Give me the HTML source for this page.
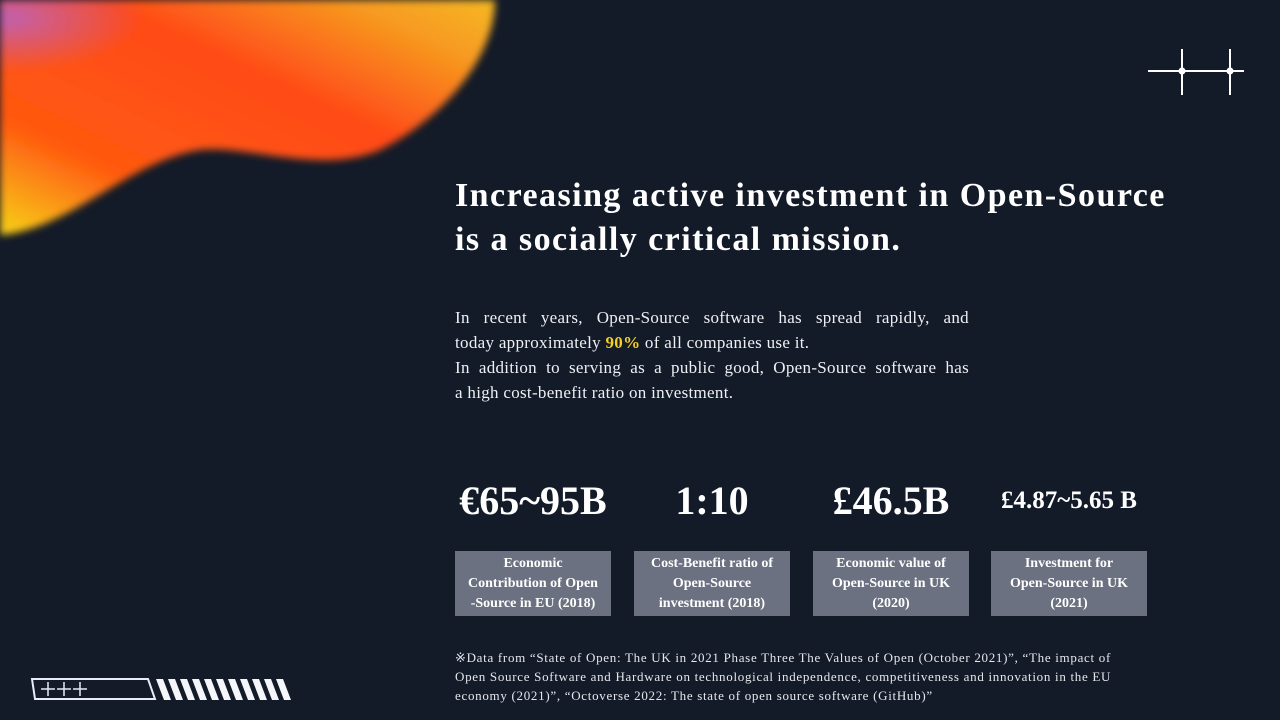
<!DOCTYPE html>
<html><head><meta charset="utf-8"><style>
body{margin:0;width:1280px;height:720px;background:#131a28;overflow:hidden;position:relative;font-family:"Liberation Serif",serif;color:#fff}
.a{position:absolute}
h1{position:absolute;left:455px;top:174px;margin:0;font-size:34px;line-height:44px;font-weight:bold;letter-spacing:1.45px;white-space:nowrap}
.p{left:455px;top:305px;width:514px;font-size:17px;line-height:25px;color:#eef0f4;letter-spacing:0.3px}
.p div{text-align:justify;text-align-last:justify;white-space:nowrap}
.p div.l{text-align-last:left}
.s{top:478px;width:160px;text-align:center;font-weight:bold;font-size:40px;line-height:46px;white-space:nowrap}
.b{top:551px;width:156px;height:65px;background:#6b7180;text-align:center;font-weight:bold;font-size:14px;line-height:20px;display:flex;align-items:center;justify-content:center}
.n{left:455px;top:648px;width:720px;font-size:13px;line-height:19px;color:#e6e8ec;letter-spacing:0.7px;white-space:nowrap}
</style></head><body>
<svg class="a" style="left:0;top:0" width="520" height="260">
<defs>
<linearGradient id="g" x1="0" y1="1" x2="1" y2="0">
<stop offset="0" stop-color="#f7d21a"/><stop offset="0.25" stop-color="#ff5a10"/><stop offset="0.6" stop-color="#ff4a18"/><stop offset="0.85" stop-color="#f79a20"/><stop offset="1" stop-color="#f5b820"/></linearGradient>
<radialGradient id="r" cx="0.02" cy="0.15" r="0.45"><stop offset="0" stop-color="#c060b0"/><stop offset="1" stop-color="#c060b0" stop-opacity="0"/></radialGradient>
<filter id="f"><feGaussianBlur stdDeviation="4"/></filter>
</defs>
<g filter="url(#f)">
<path d="M0 0 L495 0 C495 60 440 120 380 150 C320 175 250 145 200 150 C130 160 70 230 0 235 Z" fill="url(#g)"/>
<path d="M0 0 L300 0 C200 60 100 110 0 120 Z" fill="url(#r)"/>
</g></svg>
<svg class="a" style="left:1140px;top:45px" width="110" height="55">
<g stroke="#fff" stroke-width="2"><line x1="8" y1="26" x2="104" y2="26"/><line x1="42" y1="4" x2="42" y2="50"/><line x1="90" y1="4" x2="90" y2="50"/></g>
<circle cx="42" cy="26" r="3.5" fill="#fff"/><circle cx="90" cy="26" r="3.5" fill="#fff"/></svg>
<svg class="a" style="left:25px;top:670px" width="280" height="40">
<path d="M7 9 L123 9 L130 29 L10 29 Z" fill="none" stroke="#e8ecf4" stroke-width="2"/>
<g stroke="#e8ecf4" stroke-width="1.5"><line x1="16" y1="19" x2="30" y2="19"/><line x1="23" y1="12" x2="23" y2="26"/><line x1="32" y1="19" x2="46" y2="19"/><line x1="39" y1="12" x2="39" y2="26"/><line x1="48" y1="19" x2="62" y2="19"/><line x1="55" y1="12" x2="55" y2="26"/></g>
<g fill="#f4f6fa">
<polygon points="131,9 138,9 146,30 139,30" transform="translate(0,0)"/>
<polygon points="131,9 138,9 146,30 139,30" transform="translate(12,0)"/>
<polygon points="131,9 138,9 146,30 139,30" transform="translate(24,0)"/>
<polygon points="131,9 138,9 146,30 139,30" transform="translate(36,0)"/>
<polygon points="131,9 138,9 146,30 139,30" transform="translate(48,0)"/>
<polygon points="131,9 138,9 146,30 139,30" transform="translate(60,0)"/>
<polygon points="131,9 138,9 146,30 139,30" transform="translate(72,0)"/>
<polygon points="131,9 138,9 146,30 139,30" transform="translate(84,0)"/>
<polygon points="131,9 138,9 146,30 139,30" transform="translate(96,0)"/>
<polygon points="131,9 138,9 146,30 139,30" transform="translate(108,0)"/>
<polygon points="131,9 138,9 146,30 139,30" transform="translate(120,0)"/>
</g></svg>
<h1>Increasing active investment in Open-Source<br>is a socially critical mission.</h1>
<div class="a p">
<div>In recent years, Open-Source software has spread rapidly, and</div>
<div class="l">today approximately <b style="color:#f5d020">90%</b> of all companies use it.</div>
<div>In addition to serving as a public good, Open-Source software has</div>
<div class="l">a high cost-benefit ratio on investment.</div>
</div>
<div class="a s" style="left:453px">€65~95B</div>
<div class="a s" style="left:632px">1:10</div>
<div class="a s" style="left:811px">£46.5B</div>
<div class="a s" style="left:989px;font-size:25px">£4.87~5.65 B</div>
<div class="a b" style="left:455px">Economic<br>Contribution of Open<br>-Source in EU (2018)</div>
<div class="a b" style="left:634px">Cost-Benefit ratio of<br>Open-Source<br>investment (2018)</div>
<div class="a b" style="left:813px">Economic value of<br>Open-Source in UK<br>(2020)</div>
<div class="a b" style="left:991px">Investment for<br>Open-Source in UK<br>(2021)</div>
<div class="a n">※Data from “State of Open: The UK in 2021 Phase Three The Values of Open (October 2021)”, “The impact of<br>Open Source Software and Hardware on technological independence, competitiveness and innovation in the EU<br>economy (2021)”, “Octoverse 2022: The state of open source software (GitHub)”</div>
</body></html>
